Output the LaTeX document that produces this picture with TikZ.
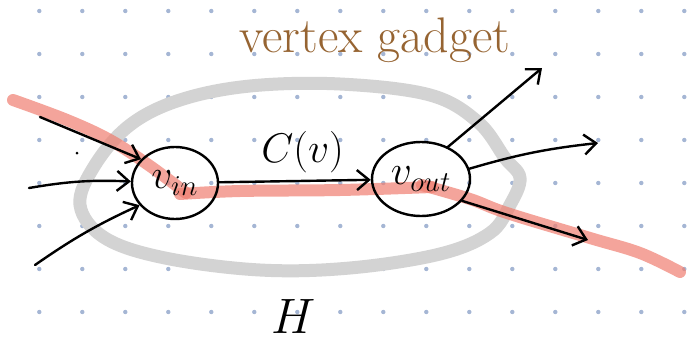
\documentclass[tikz,border=0pt]{standalone}
\usepackage{tikz}
\usetikzlibrary{arrows.meta,shapes.geometric}
\definecolor{gridblue}{RGB}{165,182,212}
\definecolor{loopgray}{RGB}{211,211,211}
\definecolor{flowred}{RGB}{239,126,112}
\definecolor{inkbrown}{RGB}{150,100,50}

\begin{document}
\begin{tikzpicture}[x=0.5pt, y=-0.5pt, >={Straight Barb[length=6pt,width=10pt]},
  line width=1.2pt, line cap=round,
  vtx/.style={draw, ellipse, inner sep=0pt, font=\fontsize{21}{24}\selectfont},
  flow/.style={flowred, opacity=0.7, line width=6pt, line cap=round, line join=round}]
  \useasboundingbox (0,0) rectangle (687,343);
  % dotted paper
  \foreach \i in {0,...,15}
    \foreach \j in {0,...,7}
      \fill[gridblue] (39.3+43*\i, 11+43*\j) circle (2.2);
  % gadget boundary
  \draw[loopgray, line width=6.5pt] plot[smooth cycle, tension=0.6] coordinates {
    (80,205) (95,165) (130,125) (180,100) (250,86) (340,84) (430,95) (478,122)
    (505,158) (520,178) (510,205) (490,233) (440,254) (350,268) (260,270)
    (165,258) (105,238)};
  % flow path through the gadget
  \draw[flow] plot[smooth, tension=0.6] coordinates {(13,100) (67,120) (110,140) (150,166) (186,193)};
  \draw[flow] plot[smooth, tension=0.6] coordinates {(180,194) (240,191) (340,190) (432,187)};
  \draw[flow] plot[smooth, tension=0.6] coordinates {(422,185) (470,199) (507,213) (590,238) (640,253) (680,272)};

  \node[vtx, minimum width=43pt, minimum height=36pt] (vin)  at (175,183) {$v_{in}$};
  \node[vtx, minimum width=49pt, minimum height=37pt] (vout) at (421,179) {$v_{out}$};
  \node[text=inkbrown, font=\fontsize{25}{30}\selectfont] (title) at (375,40) {vertex gadget};
  \node[font=\fontsize{28}{32}\selectfont, inner sep=1pt] (h) at (294,316) {$H$};

  \coordinate (a1) at (40,117);
  \coordinate (a2) at (29,188);
  \coordinate (a3) at (35,265);
  \coordinate (b1) at (542,68);
  \coordinate (b2) at (598,143);
  \coordinate (b3) at (588,240);
  \fill (77,153) circle (1.5);

  \draw[->] (a1) -- (vin.145);
  \draw[->] (a2) to[bend left=6] (vin.178);
  \draw[->] (a3) to[bend left=5] (vin.212);
  \draw[->] (vin) -- node[above, pos=0.55, font=\fontsize{20}{24}\selectfont] (cv) {$C(v)$} (vout);
  \draw[->] (vout.50) -- (b1);
  \draw[->] (vout.12) to[bend left=5] (b2);
  \draw[->] (vout.-28) -- (b3);
\end{tikzpicture}
\end{document}
